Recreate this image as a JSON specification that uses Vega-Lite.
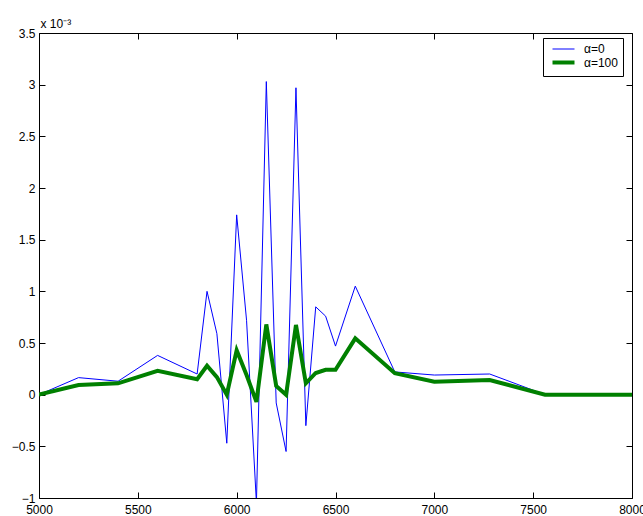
{
  "$schema": "https://vega.github.io/schema/vega-lite/v6.json",
  "width": 593,
  "height": 465,
  "autosize": "none",
  "padding": {"left": 39, "top": 33, "right": 11, "bottom": 18},
  "background": "white",
  "config": {
    "view": {"stroke": "black", "strokeWidth": 1},
    "font": "Liberation Sans",
    "axis": {"labelFont": "Liberation Sans", "labelFontSize": 12, "labelColor": "black", "domain": false, "grid": false, "tickColor": "black", "tickSize": -6, "tickWidth": 1}
  },
  "datasets": {
    "series": [
      {"x": 5000, "y": 0, "s": "α=0"},
      {"x": 5200, "y": 0.165, "s": "α=0"},
      {"x": 5400, "y": 0.13, "s": "α=0"},
      {"x": 5600, "y": 0.38, "s": "α=0"},
      {"x": 5800, "y": 0.2, "s": "α=0"},
      {"x": 5850, "y": 1.0, "s": "α=0"},
      {"x": 5900, "y": 0.59, "s": "α=0"},
      {"x": 5950, "y": -0.47, "s": "α=0"},
      {"x": 6000, "y": 1.74, "s": "α=0"},
      {"x": 6050, "y": 0.72, "s": "α=0"},
      {"x": 6100, "y": -1.05, "s": "α=0"},
      {"x": 6150, "y": 3.03, "s": "α=0"},
      {"x": 6200, "y": -0.08, "s": "α=0"},
      {"x": 6250, "y": -0.55, "s": "α=0"},
      {"x": 6300, "y": 2.97, "s": "α=0"},
      {"x": 6350, "y": -0.3, "s": "α=0"},
      {"x": 6400, "y": 0.85, "s": "α=0"},
      {"x": 6450, "y": 0.76, "s": "α=0"},
      {"x": 6500, "y": 0.47, "s": "α=0"},
      {"x": 6600, "y": 1.05, "s": "α=0"},
      {"x": 6800, "y": 0.22, "s": "α=0"},
      {"x": 7000, "y": 0.19, "s": "α=0"},
      {"x": 7280, "y": 0.2, "s": "α=0"},
      {"x": 7560, "y": 0, "s": "α=0"},
      {"x": 8000, "y": 0, "s": "α=0"},
      {"x": 5000, "y": 0, "s": "α=100"},
      {"x": 5200, "y": 0.094, "s": "α=100"},
      {"x": 5400, "y": 0.11, "s": "α=100"},
      {"x": 5600, "y": 0.23, "s": "α=100"},
      {"x": 5800, "y": 0.15, "s": "α=100"},
      {"x": 5850, "y": 0.28, "s": "α=100"},
      {"x": 5900, "y": 0.17, "s": "α=100"},
      {"x": 5950, "y": 0.0, "s": "α=100"},
      {"x": 6000, "y": 0.43, "s": "α=100"},
      {"x": 6050, "y": 0.19, "s": "α=100"},
      {"x": 6100, "y": -0.07, "s": "α=100"},
      {"x": 6150, "y": 0.68, "s": "α=100"},
      {"x": 6200, "y": 0.085, "s": "α=100"},
      {"x": 6250, "y": 0.0, "s": "α=100"},
      {"x": 6300, "y": 0.675, "s": "α=100"},
      {"x": 6350, "y": 0.11, "s": "α=100"},
      {"x": 6400, "y": 0.21, "s": "α=100"},
      {"x": 6450, "y": 0.24, "s": "α=100"},
      {"x": 6500, "y": 0.24, "s": "α=100"},
      {"x": 6600, "y": 0.545, "s": "α=100"},
      {"x": 6800, "y": 0.207, "s": "α=100"},
      {"x": 7000, "y": 0.126, "s": "α=100"},
      {"x": 7280, "y": 0.142, "s": "α=100"},
      {"x": 7560, "y": 0, "s": "α=100"},
      {"x": 8000, "y": 0, "s": "α=100"}
    ]
  },
  "data": {"name": "series"},
  "resolve": {"axis": {"x": "independent", "y": "independent"}},
  "layer": [
    {
      "mark": {"type": "line", "clip": true, "strokeJoin": "miter"},
      "encoding": {
        "x": {"field": "x", "type": "quantitative", "scale": {"domain": [5000, 8000], "nice": false, "zero": false},
              "axis": {"orient": "bottom", "title": null, "values": [5000, 5500, 6000, 6500, 7000, 7500, 8000], "format": "d", "labelPadding": 12, "labelFlush": false}},
        "y": {"field": "y", "type": "quantitative", "scale": {"domain": [-1, 3.5], "nice": false, "zero": false},
              "axis": {"orient": "left", "values": [-1, -0.5, 0, 0.5, 1, 1.5, 2, 2.5, 3, 3.5], "format": "~g", "labelPadding": 10,
                       "title": "x 10⁻³", "titleAngle": 0, "titleAlign": "left", "titleBaseline": "alphabetic", "titleX": 1, "titleY": -6,
                       "titleFont": "Liberation Sans", "titleFontSize": 12, "titleFontWeight": "normal", "titleColor": "black"}},
        "color": {"field": "s", "type": "nominal", "scale": {"domain": ["α=0", "α=100"], "range": ["#0000ff", "#008000"]},
                  "legend": {"title": null, "orient": "none", "legendX": 504, "legendY": 5, "symbolType": "M-2,0L2,0", "symbolSize": 121,
                             "symbolOffset": 8, "strokeColor": "black", "fillColor": "white", "padding": 5, "labelFontSize": 12, "labelFont": "Liberation Sans",
                             "labelColor": "black", "labelOffset": 13, "rowPadding": -2}},
        "strokeWidth": {"field": "s", "type": "nominal", "scale": {"domain": ["α=0", "α=100"], "range": [1, 4]},
                        "legend": {"title": null, "orient": "none", "legendX": 504, "legendY": 5, "symbolType": "M-2,0L2,0", "symbolSize": 121,
                                   "symbolOffset": 8, "strokeColor": "black", "fillColor": "white", "padding": 5, "labelFontSize": 12, "labelFont": "Liberation Sans",
                                   "labelColor": "black", "labelOffset": 13, "rowPadding": -2}}
      }
    },
    {
      "mark": {"type": "line", "strokeOpacity": 0},
      "encoding": {
        "x": {"field": "x", "type": "quantitative", "axis": {"orient": "top", "title": null, "labels": false, "values": [5000, 5500, 6000, 6500, 7000, 7500, 8000]}},
        "y": {"field": "y", "type": "quantitative", "axis": {"orient": "right", "title": null, "labels": false, "values": [-1, -0.5, 0, 0.5, 1, 1.5, 2, 2.5, 3, 3.5]}},
        "detail": {"field": "s"}
      }
    }
  ]
}
